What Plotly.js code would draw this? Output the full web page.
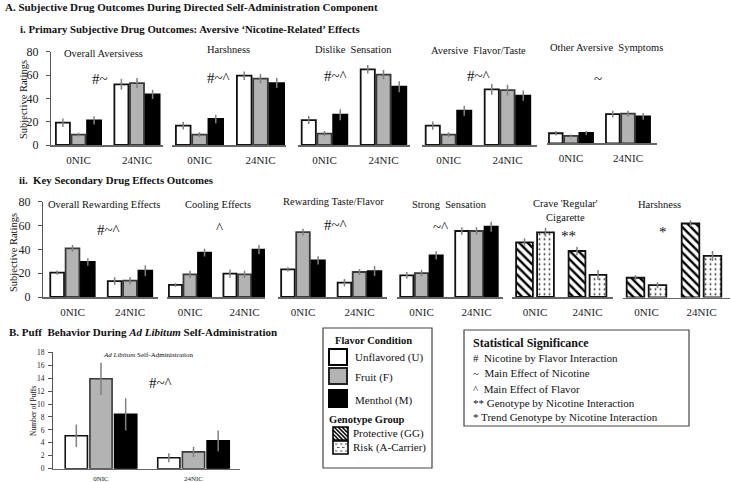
<!DOCTYPE html>
<html><head><meta charset="utf-8">
<script src="https://cdn.plot.ly/plotly-3.0.1.min.js"></script>
<style>html,body{margin:0;padding:0;background:#fff}#chart{width:731px;height:482px}</style>
</head><body><div id="chart"></div>
<script>
// ---------------- DATA ----------------
const nicLevels = ['0NIC', '24NIC'];
const flavorNames = ['Unflavored (U)', 'Fruit (F)', 'Menthol (M)'];
const genotypeNames = ['Protective (GG)', 'Risk (A-Carrier)'];

// Row i: [Unflavored, Fruit, Menthol] x [0NIC, 24NIC]
const overallAversiveness    = [[19.1, 52.0], [8.9, 53.1], [21.1, 43.4]];
const overallAversivenessErr = [[3.6, 4.6], [1.7, 4.3], [3.6, 4.0]];
const harshness              = [[16.6, 59.4], [8.9, 56.9], [22.3, 53.1]];
const harshnessErr           = [[3.4, 3.6], [2.0, 3.9], [3.7, 4.3]];
const dislikeSensation       = [[21.4, 64.9], [9.7, 60.3], [26.0, 50.0]];
const dislikeSensationErr    = [[3.4, 3.6], [2.3, 4.0], [4.7, 4.7]];
const aversiveFlavorTaste    = [[16.6, 47.7], [8.9, 47.1], [29.4, 42.3]];
const aversiveFlavorTasteErr = [[3.6, 4.6], [2.0, 4.6], [4.3, 4.4]];
const otherAversive          = [[8.6, 25.1], [6.3, 25.4], [8.9, 23.1]];
const otherAversiveErr       = [[1.9, 2.9], [1.3, 2.6], [1.7, 2.9]];

// Row ii
const overallRewarding       = [[20.4, 13.4], [40.8, 13.7], [29.4, 22.1]];
const overallRewardingErr    = [[1.8, 3.2], [2.8, 3.1], [3.2, 4.5]];
const coolingEffects         = [[10.1, 19.6], [19.0, 19.0], [37.2, 39.7]];
const coolingEffectsErr      = [[1.5, 3.5], [3.1, 3.1], [3.2, 3.9]];
const rewardingTaste         = [[23.2, 12.0], [54.5, 21.0], [30.8, 21.8]];
const rewardingTasteErr      = [[1.8, 3.1], [2.8, 2.5], [3.5, 4.2]];
const strongSensation        = [[18.2, 55.4], [20.1, 55.4], [35.0, 59.0]];
const strongSensationErr     = [[2.8, 3.1], [2.7, 3.1], [3.5, 4.2]];
// genotype panels: [Protective, Risk] x [0NIC, 24NIC]
const craveRegular           = [[45.9, 38.6], [54.3, 18.5]];
const craveRegularErr        = [[3.5, 3.5], [3.8, 4.2]];
const harshnessGeno          = [[16.5, 61.8], [10.3, 34.7]];
const harshnessGenoErr       = [[2.1, 2.8], [2.5, 4.2]];

// Panel B: number of puffs
const puffs    = [[5.1, 1.7], [13.9, 2.6], [8.4, 4.3]];
const puffsErr = [[1.75, 0.7], [2.5, 0.8], [2.5, 1.6]];

const ratingTicks = [0, 20, 40, 60, 80];
const puffTicks = [0, 2, 4, 6, 8, 10, 12, 14, 16, 18];

// ---------------- LAYOUT HELPERS ----------------
const W = 731, H = 482;
const FONT = 'Liberation Serif, Times New Roman, serif';
const X = px => px / W;
const Y = py => 1 - py / H;

const flavorFill = ['#ffffff', '#b3b3b3', '#000000'];
const flavorLine = ['#111111', '#3a3a3a', '#000000'];

const panels = [
  {title:'Overall Aversivess', data:overallAversiveness, err:overallAversivenessErr, L:51, R:163, c0:78.5, s:58.5, top:51.7, bot:145, tx:103, ty:53, sig:'#~', sx:100, sy:79, showY:true},
  {title:'Harshness', data:harshness, err:harshnessErr, L:172, R:286, c0:199.5, s:61, top:51.7, bot:145, tx:228, ty:50, sig:'#~^', sx:218, sy:78},
  {title:'Dislike  Sensation', data:dislikeSensation, err:dislikeSensationErr, L:298, R:410, c0:324.5, s:59, top:51.7, bot:145, tx:353, ty:50, sig:'#~^', sx:335, sy:76},
  {title:'Aversive  Flavor/Taste', data:aversiveFlavorTaste, err:aversiveFlavorTasteErr, L:422, R:537, c0:448.5, s:59, top:51.7, bot:145, tx:478, ty:51, sig:'#~^', sx:478, sy:76},
  {title:'Other Aversive  Symptoms', data:otherAversive, err:otherAversiveErr, L:547, R:657, c0:571, s:57, top:50, bot:143.3, tx:606, ty:48, sig:'~', sx:598, sy:79},
  {title:'Overall Rewarding Effects', data:overallRewarding, err:overallRewardingErr, L:43, R:158, c0:72.5, s:57.5, top:201.7, bot:297, tx:104, ty:204, sig:'#~^', sx:108, sy:230, showY:true},
  {title:'Cooling Effects', data:coolingEffects, err:coolingEffectsErr, L:167, R:265, c0:190, s:54.5, top:201.7, bot:297, tx:218, ty:204, sig:'^', sx:219, sy:228},
  {title:'Rewarding Taste/Flavor', data:rewardingTaste, err:rewardingTasteErr, L:278, R:387, c0:303, s:56.5, top:201.7, bot:297, tx:333, ty:201, sig:'#~^', sx:335, sy:225},
  {title:'Strong  Sensation', data:strongSensation, err:strongSensationErr, L:397, R:503, c0:421.5, s:55, top:201.7, bot:297, tx:449, ty:204, sig:'~^', sx:440, sy:227},
  {title:"Crave 'Regular'<br>Cigarette", data:craveRegular, err:craveRegularErr, L:512, R:613, c0:535, s:52.5, top:201.7, bot:297, tx:565, ty:210, sig:'**', sx:568, sy:236, geno:true},
  {title:'Harshness', data:harshnessGeno, err:harshnessGenoErr, L:623, R:730, c0:646.5, s:55, top:201.7, bot:297.5, tx:659, ty:204, sig:'*', sx:663, sy:232, geno:true},
  {title:'', data:puffs, err:puffsErr, L:53, R:240, c0:101, s:92.5, top:352.3, bot:468.7, sig:'#~^', sx:160, sy:383, showY:true, puff:true}
];

const traces = [];
const layout = {
  width: W, height: H, autosize: false,
  margin: {l:0, r:0, t:0, b:0},
  paper_bgcolor: '#fff', plot_bgcolor: 'rgba(0,0,0,0)',
  barmode: 'group', bargap: 0.2, bargroupgap: 0.1,
  showlegend: false,
  font: {family: FONT, color: '#111'},
  annotations: [], shapes: []
};

function ann(text, px, py, size, o) {
  o = o || {};
  layout.annotations.push({
    text: text, x: X(px), y: Y(py), xref: 'paper', yref: 'paper', showarrow: false,
    xanchor: o.xanchor || 'center', yanchor: o.yanchor || 'middle',
    textangle: o.angle || 0, align: o.align || 'center',
    font: {family: FONT, size: size, color: o.color || '#111'}
  });
}

panels.forEach((p, i) => {
  const n = i + 1;
  const xa = 'xaxis' + (n === 1 ? '' : n), ya = 'yaxis' + (n === 1 ? '' : n);
  const xr = 'x' + (n === 1 ? '' : n), yr = 'y' + (n === 1 ? '' : n);
  layout[xa] = {
    domain: [X(p.L), X(p.R)], anchor: yr, type: 'category',
    range: [(p.L - p.c0) / p.s, (p.R - p.c0) / p.s],
    showline: true, linecolor: '#666', linewidth: 1.5, ticks: '',
    showgrid: false, zeroline: false, fixedrange: true,
    tickfont: {family: FONT, size: p.puff ? 7 : 11, color: '#222'},
    ticklabelstandoff: p.puff ? 2 : 4
  };
  layout[ya] = {
    domain: [Y(p.bot), Y(p.top)], anchor: xr,
    range: p.puff ? [0, 18] : [0, 80],
    tickvals: p.puff ? puffTicks : ratingTicks,
    showline: !!p.showY, linecolor: '#555', linewidth: 1,
    ticks: p.showY ? 'outside' : '', ticklen: 4, tickcolor: '#555',
    showticklabels: !!p.showY, showgrid: false, zeroline: false,
    tickfont: {family: FONT, size: p.puff ? 7.5 : 12, color: '#222'},
    ticklabelstandoff: p.puff ? 2 : 5
  };
  p.data.forEach((vals, j) => {
    const t = {
      type: 'bar', x: nicLevels, y: vals, xaxis: xr, yaxis: yr,
      name: p.geno ? genotypeNames[j] : flavorNames[j],
      error_y: {type: 'data', array: p.err[j], visible: true, color: '#808080', thickness: 1.5, width: 0},
      hoverinfo: 'skip'
    };
    if (p.geno) {
      t.width = 0.32;
      t.marker = {color: '#ffffff', line: {color: '#111', width: 1.8},
        pattern: j === 0 ? {shape: '\\', fgcolor: '#000', bgcolor: '#fff', size: 6, solidity: 0.4}
                         : {shape: '.', fgcolor: '#333', bgcolor: '#fff', size: 5, solidity: 0.12}};
    } else {
      t.marker = {color: flavorFill[j], line: {color: flavorLine[j], width: p.puff ? 1.6 : 1.8}};
    }
    traces.push(t);
  });
  if (p.title) ann(p.title, p.tx, p.ty, 10.5);
  ann(p.sig, p.sx, p.sy, 15);
});

// Section titles
ann('<b>A. Subjective Drug Outcomes During Directed Self-Administration Component</b>', 3, 7, 11, {xanchor: 'left'});
ann('<b>i. Primary Subjective Drug Outcomes: Aversive \u2018Nicotine-Related\u2019 Effects</b>', 18, 29, 10.8, {xanchor: 'left'});
ann('<b>ii.  Key Secondary Drug Effects Outcomes</b>', 17, 180, 10.8, {xanchor: 'left'});
ann('<b>B. Puff  Behavior During <i>Ad Libitum</i> Self-Administration</b>', 7, 332, 11, {xanchor: 'left'});

// Axis titles
ann('Subjective Ratings', 23, 100, 10.5, {angle: -90});
ann('Subjective Ratings', 13, 253, 10.5, {angle: -90});
ann('Number of Puffs', 33, 411, 7.5, {angle: -90});
ann('<i>Ad Libitum</i> Self-Administration', 148, 355, 7);

// ---------------- LEGEND BOXES ----------------
function rect(x0, y0, x1, y1, fill, lc, lw) {
  layout.shapes.push({type: 'rect', xref: 'paper', yref: 'paper', x0: X(x0), x1: X(x1), y0: Y(y1), y1: Y(y0),
    fillcolor: fill, line: {color: lc, width: lw}});
}
function path(d, lc, lw) {
  layout.shapes.push({type: 'path', xref: 'paper', yref: 'paper', path: d, line: {color: lc, width: lw}});
}
rect(323, 328, 432, 468, 'rgba(0,0,0,0)', '#444', 1.2);
rect(464, 330, 689, 426, 'rgba(0,0,0,0)', '#444', 1.2);

rect(329, 349, 347, 365, '#ffffff', '#000', 2);
rect(329, 368, 347, 384, '#b3b3b3', '#222', 2);
rect(329, 390, 347, 407, '#000000', '#000', 2);

// hatched protective swatch
(function () {
  const x0 = 333, y0 = 427, x1 = 348, y1 = 440, sp = 4;
  let d = '';
  for (let c = x0 - y1 + sp / 2; c < x1 - y0; c += sp) {
    const xa = Math.max(x0, y0 + c), xb = Math.min(x1, y1 + c);
    if (xb - xa < 0.5) continue;
    d += 'M' + X(xa) + ',' + Y(xa - c) + 'L' + X(xb) + ',' + Y(xb - c);
  }
  rect(x0, y0, x1, y1, '#ffffff', '#000', 1.6);
  path(d, '#000', 1.6);
})();
// dashed risk swatch
(function () {
  const x0 = 333, y0 = 441, x1 = 348, y1 = 454;
  let d = '';
  [444, 447.5, 451].forEach((yy, r) => {
    for (let xx = x0 + 2 + (r % 2) * 2; xx + 2.5 < x1; xx += 5) {
      d += 'M' + X(xx) + ',' + Y(yy) + 'L' + X(xx + 2.5) + ',' + Y(yy);
    }
  });
  rect(x0, y0, x1, y1, '#ffffff', '#000', 1.6);
  path(d, '#333', 0.8);
})();

ann('<b>Flavor Condition</b>', 373, 340, 10.5);
ann('Unflavored (U)', 353, 357, 11, {xanchor: 'left'});
ann('Fruit (F)', 353, 377, 11, {xanchor: 'left'});
ann('Menthol (M)', 353, 400, 11, {xanchor: 'left'});
ann('<b>Genotype Group</b>', 327, 419, 10.5, {xanchor: 'left'});
ann('Protective (GG)', 351, 433, 11, {xanchor: 'left'});
ann('Risk (A-Carrier)', 351, 447, 11, {xanchor: 'left'});

ann('<b>Statistical Significance</b>', 471, 343, 12, {xanchor: 'left'});
ann('#\u00a0 Nicotine by Flavor Interaction', 471, 358, 11, {xanchor: 'left'});
ann('~\u00a0 Main Effect of Nicotine', 471, 373, 11, {xanchor: 'left'});
ann('^\u00a0 Main Effect of Flavor', 471, 389, 11, {xanchor: 'left'});
ann('** Genotype by Nicotine Interaction', 471, 403, 11, {xanchor: 'left'});
ann('* Trend Genotype by Nicotine Interaction', 471, 417, 11, {xanchor: 'left'});

Plotly.newPlot('chart', traces, layout, {staticPlot: true, displayModeBar: false});
</script>
</body></html>
